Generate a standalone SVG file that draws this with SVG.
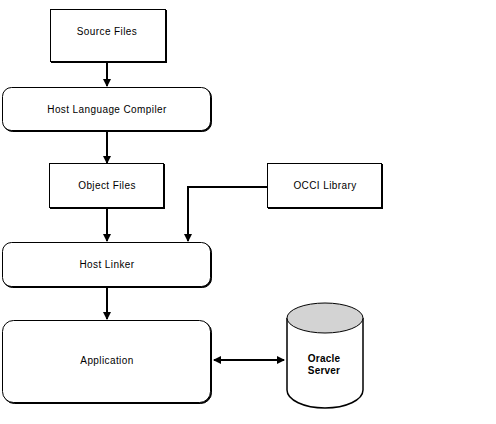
<svg xmlns="http://www.w3.org/2000/svg" width="496" height="424" viewBox="0 0 496 424">
<style>
.box{fill:#fff;stroke:#000;stroke-width:1}
.sh{fill:#000;stroke:#000;stroke-width:1}
.lbl{font-family:"Liberation Sans",Arial,sans-serif;font-size:10px;letter-spacing:0.4px;fill:#000;text-anchor:middle}
.b{font-weight:bold;letter-spacing:0.2px}
.ln{fill:none;stroke:#000;stroke-width:2}
</style>
<defs>
<marker id="ah" markerWidth="8" markerHeight="8" refX="7" refY="4" orient="auto" markerUnits="userSpaceOnUse">
<path d="M0,0 L8,4 L0,8 Z" fill="#000"/>
</marker>
<marker id="ahs" markerWidth="8" markerHeight="8" refX="1" refY="4" orient="auto" markerUnits="userSpaceOnUse">
<path d="M8,0 L0,4 L8,8 Z" fill="#000"/>
</marker>
</defs>
<g id="connectors">
<line class="ln" x1="107" y1="61" x2="107" y2="86" marker-end="url(#ah)"/>
<line class="ln" x1="107" y1="131" x2="107" y2="163" marker-end="url(#ah)"/>
<line class="ln" x1="107" y1="209" x2="107" y2="241" marker-end="url(#ah)"/>
<polyline class="ln" points="267,187 188,187 188,241" marker-end="url(#ah)"/>
<line class="ln" x1="107" y1="288" x2="107" y2="319" marker-end="url(#ah)"/>
<line class="ln" x1="214" y1="360" x2="284" y2="360" marker-start="url(#ahs)" marker-end="url(#ah)"/>
</g>
<g id="source-files">
<rect class="sh" x="51.5" y="10.5" width="115" height="52"/>
<rect class="box" x="50.5" y="9.5" width="115" height="52"/>
<text class="lbl" x="107" y="35">Source Files</text>
</g>
<g id="host-language-compiler">
<rect class="sh" x="3.5" y="88.5" width="208" height="43" rx="9"/>
<rect class="box" x="2.5" y="87.5" width="208" height="43" rx="9"/>
<text class="lbl" x="107" y="113">Host Language Compiler</text>
</g>
<g id="object-files">
<rect class="sh" x="50.5" y="164.5" width="114" height="44"/>
<rect class="box" x="49.5" y="163.5" width="114" height="44"/>
<text class="lbl" x="107" y="189">Object Files</text>
</g>
<g id="occi-library">
<rect class="sh" x="268.5" y="164.5" width="114" height="44"/>
<rect class="box" x="267.5" y="163.5" width="114" height="44"/>
<text class="lbl" x="325" y="189">OCCI Library</text>
</g>
<g id="host-linker">
<rect class="sh" x="3.5" y="243.5" width="208" height="44" rx="9"/>
<rect class="box" x="2.5" y="242.5" width="208" height="44" rx="9"/>
<text class="lbl" x="107" y="268">Host Linker</text>
</g>
<g id="application">
<rect class="sh" x="3.5" y="321.5" width="208" height="82" rx="11"/>
<rect class="box" x="2.5" y="320.5" width="208" height="82" rx="11"/>
<text class="lbl" x="107" y="364">Application</text>
</g>
<g id="oracle-server">
<path d="M287,318 L287,390 A38,18 0 0 0 363,390 L363,318" fill="#fff" stroke="#000" stroke-width="1.5"/>
<ellipse cx="325" cy="318" rx="38" ry="15" fill="#d3d3d3" stroke="#000" stroke-width="1"/>
<text class="lbl b" x="324" y="362">Oracle</text>
<text class="lbl b" x="324" y="374">Server</text>
</g>
</svg>
